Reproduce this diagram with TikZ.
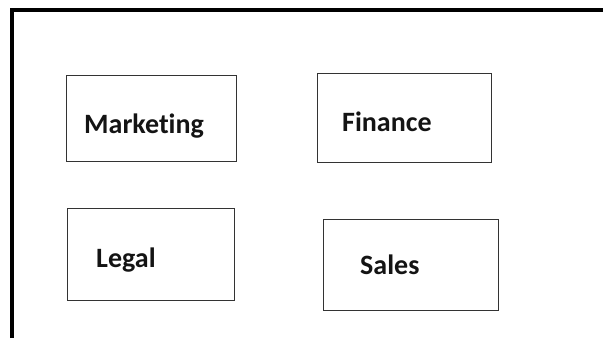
\documentclass[tikz,border=0pt]{standalone}
\usepackage{fontspec}
\setmainfont{Carlito}[Ligatures={NoCommon}]
\begin{document}
\begin{tikzpicture}[x=1pt,y=-1pt,
  box/.style={draw=black!80, line width=1.3pt, inner sep=0pt, anchor=north west},
  lbl/.style={font=\fontsize{28}{31}\selectfont\bfseries, anchor=base west, inner sep=0pt, text=black!92}]
\useasboundingbox[fill=white] (0,0) rectangle (603,338);
\coordinate (fb) at (12,338);
\coordinate (fc) at (12,10);
\coordinate (fr) at (603,10);
\draw[line width=4pt] (fb) -- (fc) -- (fr);
\node[box, minimum width=170pt, minimum height=86pt] (mbox) at (66,75) {};
\node[box, minimum width=174pt, minimum height=89pt] (fbox) at (317,73) {};
\node[box, minimum width=167pt, minimum height=92pt] (lbox) at (67,208) {};
\node[box, minimum width=175pt, minimum height=91pt] (sbox) at (323,219) {};
\node[lbl] (mtext) at (84,133) {Marketing};
\node[lbl] (ftext) at (342,131) {Finance};
\node[lbl] (ltext) at (96,267) {Legal};
\node[lbl] (stext) at (360,274) {Sales};
\end{tikzpicture}
\end{document}
